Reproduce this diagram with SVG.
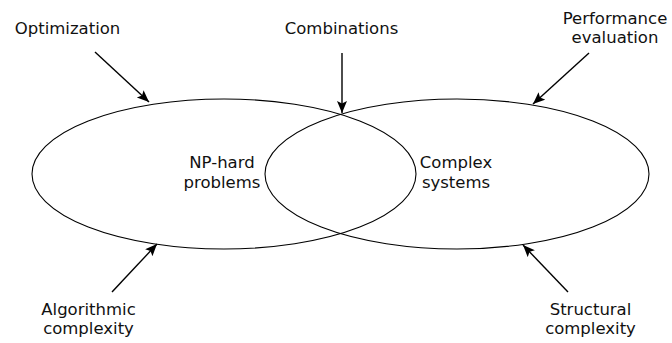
<svg xmlns="http://www.w3.org/2000/svg" width="672" height="343" viewBox="0 0 672 343">
<style>
.set{fill:none;stroke:#000;stroke-width:1.1}
.lbl{font-family:"DejaVu Sans","Liberation Sans",sans-serif;font-size:16.5px;fill:#111;text-anchor:middle}
.conn{stroke:#000;stroke-width:1.4;fill:none;marker-end:url(#ah)}
</style>
<defs>
<marker id="ah" markerUnits="userSpaceOnUse" markerWidth="14" markerHeight="12" refX="12" refY="5" orient="auto">
<path d="M0,0 L12,5 L0,10 L2.5,5 z" fill="#000"/>
</marker>
</defs>
<rect width="672" height="343" fill="#fff"/>
<g id="np-hard">
<ellipse class="set" cx="224" cy="174" rx="192" ry="75"/>
<text class="lbl" x="222" y="168">NP-hard</text>
<text class="lbl" x="222" y="188">problems</text>
</g>
<g id="complex-systems">
<ellipse class="set" cx="457" cy="174" rx="192" ry="75"/>
<text class="lbl" x="456" y="168">Complex</text>
<text class="lbl" x="456" y="188">systems</text>
</g>
<g id="optimization"><text class="lbl" x="67.5" y="34">Optimization</text></g>
<g id="combinations"><text class="lbl" x="341.5" y="34">Combinations</text></g>
<g id="performance"><text class="lbl" x="615" y="24">Performance</text><text class="lbl" x="615" y="43">evaluation</text></g>
<g id="algorithmic"><text class="lbl" x="88.5" y="315">Algorithmic</text><text class="lbl" x="88.5" y="334">complexity</text></g>
<g id="structural"><text class="lbl" x="590.5" y="315">Structural</text><text class="lbl" x="590.5" y="334">complexity</text></g>
<g id="connectors">
<line class="conn" x1="95" y1="52" x2="149" y2="102"/>
<line class="conn" x1="342" y1="53" x2="342" y2="113"/>
<line class="conn" x1="589" y1="53" x2="533" y2="104"/>
<line class="conn" x1="112" y1="292" x2="157" y2="244"/>
<line class="conn" x1="568" y1="292" x2="523" y2="245"/>
</g>
</svg>
